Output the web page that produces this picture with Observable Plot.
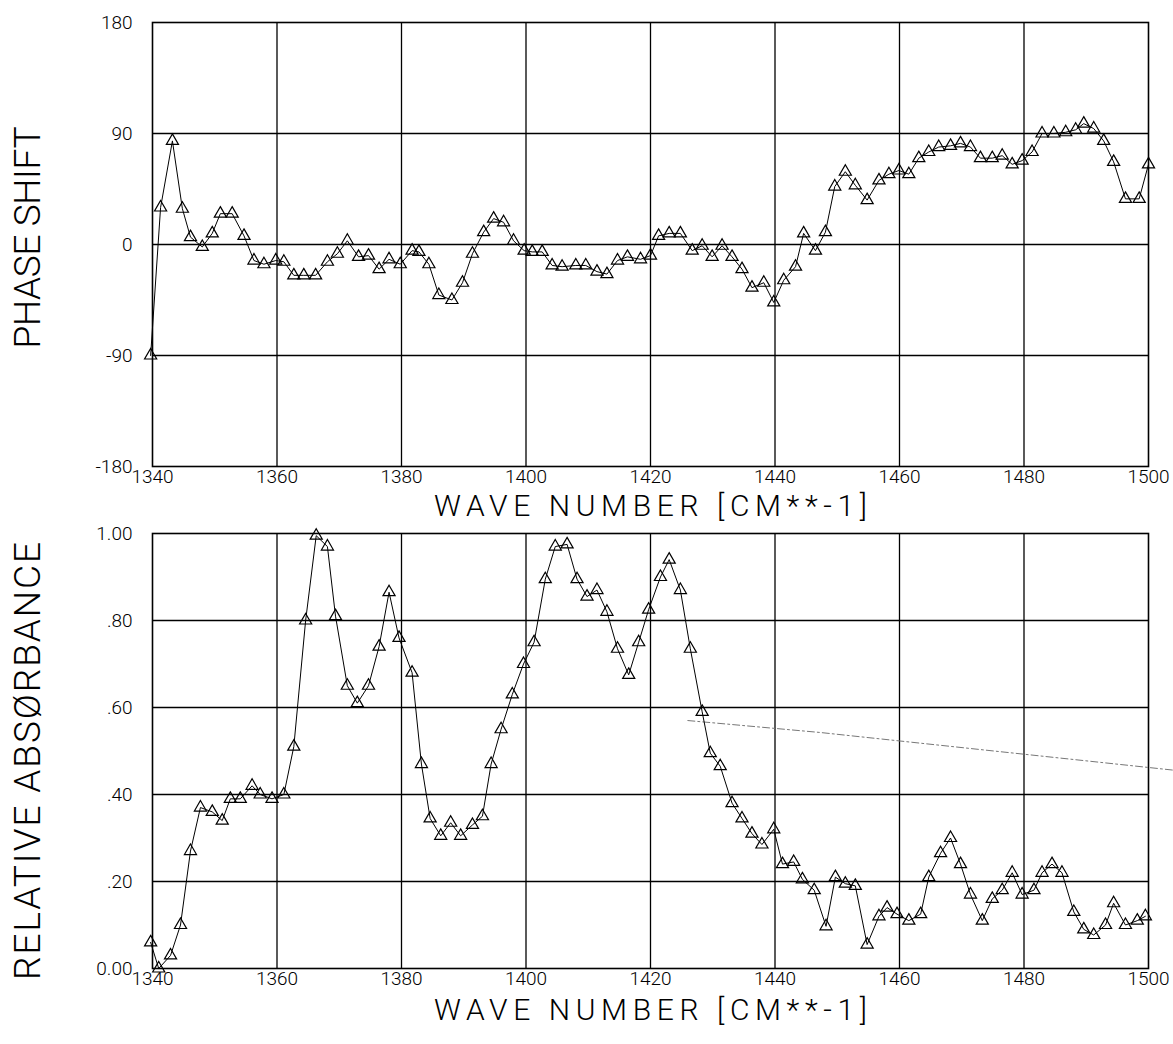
<!DOCTYPE html>
<html>
<head>
<meta charset="utf-8">
<script src="https://cdn.jsdelivr.net/npm/d3@7"></script>
<script src="https://cdn.jsdelivr.net/npm/@observablehq/plot@0.6"></script>
<style>
  html, body { margin: 0; padding: 0; background: #fff; }
  #chart svg { display: block; }
</style>
</head>
<body>
<div id="chart"></div>
<script>
// ---- tick definitions ----
const waveTicks = [1340, 1360, 1380, 1400, 1420, 1440, 1460, 1480, 1500];
const waveTickLabels = ["1340", "1360", "1380", "1400", "1420", "1440", "1460", "1480", "1500"];
const phaseTicks = [-180, -90, 0, 90, 180];
const phaseTickLabels = ["-180", "-90", "0", "90", "180"];
const absTicks = [0, 0.2, 0.4, 0.6, 0.8, 1.0];
const absTickLabels = ["0.00", ".20", ".40", ".60", ".80", "1.00"];

const xTitle = "WAVE NUMBER [CM**-1]";
const phaseTitle = "PHASE SHIFT";
const absTitle = "RELATIVE ABSØRBANCE";

// ---- phase shift series ----
const phaseX = [1339.7, 1341.3, 1343.2, 1344.8, 1346.1, 1348.0, 1349.6, 1350.9, 1352.8, 1354.7,
  1356.3, 1357.9, 1359.8, 1361.1, 1362.7, 1364.3, 1366.2, 1368.1, 1369.7, 1371.3,
  1373.1, 1374.7, 1376.4, 1378.0, 1379.8, 1381.7, 1382.8, 1384.4, 1386.0, 1388.1,
  1389.8, 1391.4, 1393.2, 1394.8, 1396.4, 1398.0, 1399.7, 1401.0, 1402.6, 1404.2,
  1405.8, 1408.0, 1409.6, 1411.4, 1413.0, 1414.7, 1416.3, 1418.4, 1420.0, 1421.3,
  1423.0, 1424.8, 1426.7, 1428.3, 1429.9, 1431.5, 1433.1, 1434.7, 1436.3, 1438.2,
  1439.8, 1441.4, 1443.3, 1444.6, 1446.5, 1448.1, 1449.6, 1451.3, 1452.9, 1454.8,
  1456.7, 1458.3, 1459.9, 1461.5, 1463.1, 1464.7, 1466.3, 1468.2, 1469.8, 1471.4,
  1473.0, 1474.9, 1476.5, 1478.1, 1479.7, 1481.3, 1482.9, 1484.8, 1486.7, 1488.3,
  1489.6, 1491.2, 1492.8, 1494.4, 1496.3, 1498.5, 1500.0];
const phaseY = [-90, 30, 84, 29, 6, -2, 9, 25, 25, 7,
  -13, -16, -13, -14, -25, -25, -25, -14, -7.5, 3,
  -10, -9, -20, -12, -16, -5, -6, -16, -41, -45,
  -31, -7.5, 10, 21, 18, 3, -5, -6, -6, -17,
  -18, -17, -17, -22, -24, -13, -10, -12, -9, 7,
  9, 9, -5, -1, -10, -1, -10, -20, -35, -31,
  -47, -29, -18, 9, -5, 10, 47, 59, 48, 36,
  52, 57, 60, 57, 70, 75, 79, 80, 82, 79,
  70, 70, 72, 65, 68, 75, 90, 90, 91, 93,
  98, 94, 84, 67, 37, 37, 65];

// ---- relative absorbance series ----
const absX = [1339.7, 1341.0, 1342.9, 1344.5, 1346.1, 1347.7, 1349.6, 1351.2, 1352.5, 1354.1,
  1356.0, 1357.3, 1359.2, 1361.1, 1362.7, 1364.6, 1366.3, 1368.1, 1369.4, 1371.3,
  1372.9, 1374.7, 1376.4, 1378.0, 1379.6, 1381.7, 1383.2, 1384.6, 1386.3, 1387.9,
  1389.5, 1391.4, 1393.0, 1394.4, 1396.0, 1397.8, 1399.6, 1401.3, 1403.1, 1404.7,
  1406.6, 1408.2, 1409.8, 1411.4, 1413.0, 1414.7, 1416.5, 1418.1, 1419.7, 1421.6,
  1423.0, 1424.8, 1426.4, 1428.3, 1429.6, 1431.2, 1433.1, 1434.7, 1436.3, 1437.9,
  1439.8, 1441.2, 1443.0, 1444.4, 1446.3, 1448.2, 1449.7, 1451.3, 1452.9, 1454.8,
  1456.7, 1458.0, 1459.6, 1461.5, 1463.4, 1464.7, 1466.6, 1468.2, 1469.8, 1471.4,
  1473.3, 1474.9, 1476.5, 1478.1, 1479.7, 1481.6, 1482.9, 1484.5, 1486.1, 1488.0,
  1489.6, 1491.2, 1493.1, 1494.4, 1496.3, 1498.2, 1499.5];
const absY = [0.06, 0.00, 0.03, 0.10, 0.27, 0.37, 0.36, 0.34, 0.39, 0.39,
  0.42, 0.40, 0.39, 0.40, 0.51, 0.80, 0.995, 0.97, 0.81, 0.65,
  0.61, 0.65, 0.74, 0.865, 0.76, 0.68, 0.47, 0.345, 0.305, 0.335,
  0.305, 0.33, 0.35, 0.47, 0.55, 0.63, 0.70, 0.75, 0.895, 0.97,
  0.975, 0.895, 0.855, 0.87, 0.82, 0.735, 0.675, 0.75, 0.825, 0.90,
  0.94, 0.87, 0.735, 0.59, 0.495, 0.465, 0.38, 0.345, 0.31, 0.285,
  0.32, 0.24, 0.245, 0.205, 0.18, 0.097, 0.21, 0.195, 0.19, 0.055,
  0.12, 0.14, 0.125, 0.11, 0.125, 0.21, 0.265, 0.30, 0.24, 0.17,
  0.11, 0.16, 0.18, 0.22, 0.17, 0.18, 0.22, 0.24, 0.22, 0.13,
  0.09, 0.077, 0.10, 0.15, 0.10, 0.11, 0.12];

// faint stray pen trace in the lower panel
const strayX = [1426.0, 1447.3, 1504.0];
const strayY = [0.570, 0.5425, 0.456];

const phaseData = phaseX.map((x, i) => ({x, y: phaseY[i]}));
const absData = absX.map((x, i) => ({x, y: absY[i]}));
const strayData = strayX.map((x, i) => ({x, y: strayY[i]}));

const labelFor = (ticks, labels) => d => {
  const i = ticks.findIndex(t => Math.abs(t - d) < 1e-9);
  return i >= 0 ? labels[i] : "";
};

const FONT = "Roboto, 'Liberation Sans', sans-serif";
const baseStyle = {fontFamily: FONT, fontWeight: 300, background: "#fff", color: "#000", overflow: "visible"};
const gridStyle = {stroke: "#000", strokeOpacity: 1, strokeWidth: 1.3};

const topPlot = Plot.plot({
  width: 1173, height: 522,
  marginLeft: 152, marginRight: 25, marginTop: 22, marginBottom: 56,
  style: baseStyle,
  x: {domain: [1340, 1500]},
  y: {domain: [-180, 180]},
  marks: [
    Plot.gridX(waveTicks.slice(1, -1), gridStyle),
    Plot.gridY([-90, 0, 90], gridStyle),
    Plot.frame({stroke: "#000", strokeWidth: 1.6}),
    Plot.axisX(waveTicks, {tickSize: 0, tickPadding: 3, fontSize: 19, label: null,
      tickFormat: labelFor(waveTicks, waveTickLabels)}),
    Plot.axisY(phaseTicks, {tickSize: 0, tickPadding: 20, fontSize: 19, label: null,
      tickFormat: labelFor(phaseTicks, phaseTickLabels)}),
    Plot.line(phaseData, {x: "x", y: "y", stroke: "#000", strokeWidth: 1}),
    Plot.dot(phaseData, {x: "x", y: "y", symbol: "triangle", r: 4.5, stroke: "#000", fill: "none", strokeWidth: 1.2}),
    Plot.text([xTitle], {text: d => d, frameAnchor: "bottom", dy: 40, fontSize: 30, fontWeight: 300,
      lineAnchor: "middle", textAnchor: "middle"}),
    Plot.text([phaseTitle], {text: d => d, frameAnchor: "left", dx: -124, dy: -7, rotate: -90,
      fontSize: 37, fontWeight: 300, textAnchor: "middle", lineAnchor: "middle"})
  ]
});

const bottomPlot = Plot.plot({
  width: 1173, height: 522,
  marginLeft: 152, marginRight: 25, marginTop: 11, marginBottom: 76,
  style: baseStyle,
  x: {domain: [1340, 1500]},
  y: {domain: [0, 1]},
  marks: [
    Plot.gridX(waveTicks.slice(1, -1), gridStyle),
    Plot.gridY(absTicks.slice(1, -1), gridStyle),
    Plot.frame({stroke: "#000", strokeWidth: 1.6}),
    Plot.axisX(waveTicks, {tickSize: 0, tickPadding: 3, fontSize: 19, label: null,
      tickFormat: labelFor(waveTicks, waveTickLabels)}),
    Plot.axisY(absTicks, {tickSize: 0, tickPadding: 20, fontSize: 19, label: null,
      tickFormat: labelFor(absTicks, absTickLabels)}),
    Plot.line(strayData, {x: "x", y: "y", stroke: "#777", strokeWidth: 1, strokeDasharray: "7,3,2,3"}),
    Plot.line(absData, {x: "x", y: "y", stroke: "#000", strokeWidth: 1}),
    Plot.dot(absData, {x: "x", y: "y", symbol: "triangle", r: 4.5, stroke: "#000", fill: "none", strokeWidth: 1.2}),
    Plot.text([xTitle], {text: d => d, frameAnchor: "bottom", dy: 42, fontSize: 30, fontWeight: 300,
      lineAnchor: "middle", textAnchor: "middle"}),
    Plot.text([absTitle], {text: d => d, frameAnchor: "left", dx: -124, dy: 10, rotate: -90,
      fontSize: 37, fontWeight: 300, textAnchor: "middle", lineAnchor: "middle"})
  ]
});

const fit = (svg, str, len) => {
  d3.select(svg).selectAll("text")
    .filter(function () { return this.textContent === str; })
    .attr("textLength", len).attr("lengthAdjust", "spacing");
};
fit(topPlot, xTitle, 433);
fit(bottomPlot, xTitle, 433);
fit(topPlot, phaseTitle, 222);
fit(bottomPlot, absTitle, 438);

const host = document.getElementById("chart");
host.appendChild(topPlot);
host.appendChild(bottomPlot);
</script>
</body>
</html>
